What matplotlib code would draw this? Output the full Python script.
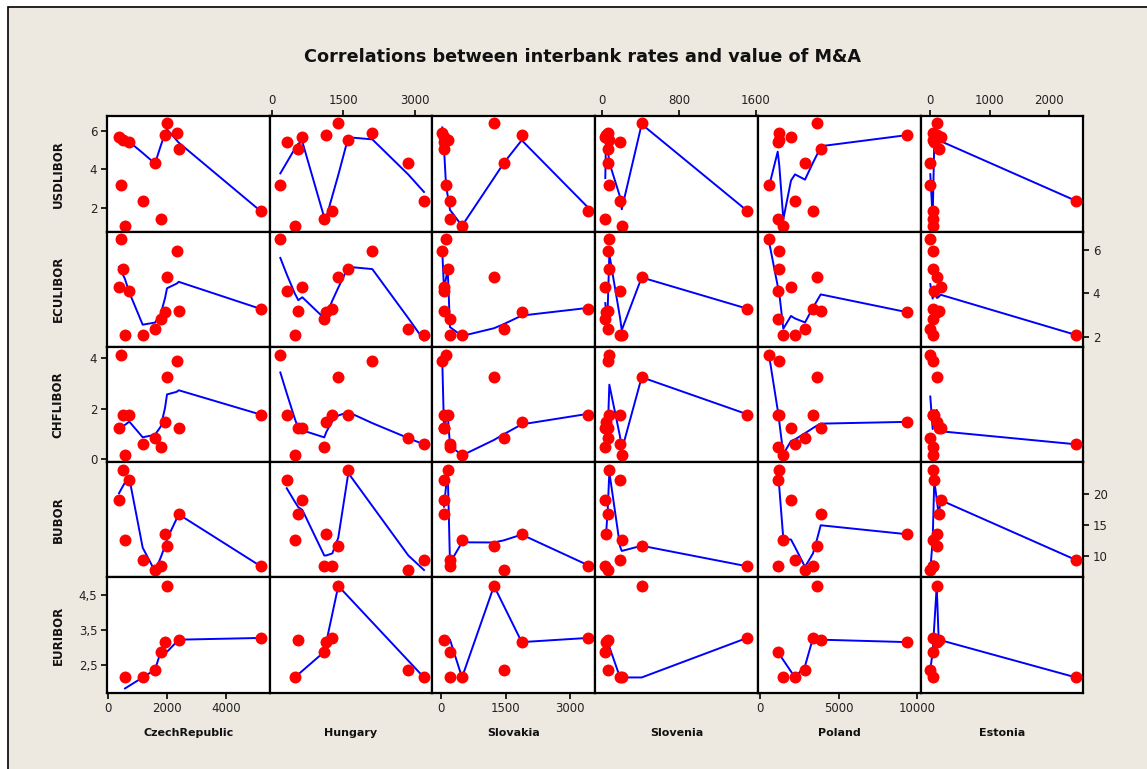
import matplotlib
matplotlib.use("Agg")
import matplotlib.pyplot as plt
import numpy as np
from matplotlib.patches import Rectangle

nan = np.nan

countries = ["CzechRepublic", "Hungary", "Slovakia", "Slovenia", "Poland", "Estonia"]
rates = ["USDLIBOR", "ECULIBOR", "CHFLIBOR", "BUBOR", "EURIBOR"]

# value of M&A per country, one entry per observation
czech = [364, 510, 714, 432, 568, 1170, 1588, 1782, 1929, 1997, 2327, 2395, 5184]
hungary = [640, 1603, 314, 180, 481, 3186, 2858, 1100, 1142, 1393, 2105, 556, 1268]
slovakia = [76, 162, 76, 123, 493, 215, 1464, 215, 1874, 1233, 37, 76, 3400]
slovenia = [34, 76, 187, 76, 205, 187, 59, 34, 42, 412, 59, 59, 1507]
poland = [1969, 1226, 1124, 572, 1480, 2223, 2858, 1124, 9316, 3620, 1226, 3855, 3366]
estonia = [180, 45, 72, 5, 45, 2453, 5, 45, 118, 113, 45, 146, 45]

# interbank rates for the same observations
usdlibor = [5.66, 5.52, 5.43, 3.19, 1.10, 2.38, 4.32, 1.45, 5.76, 6.38, 5.87, 5.04, 1.85]
eculibor = [4.30, 5.11, 4.10, 6.49, 2.09, 2.09, 2.37, 2.81, 3.14, 4.76, 5.94, 3.21, 3.29]
chflibor = [1.23, 1.77, 1.77, 4.14, 0.17, 0.59, 0.83, 0.50, 1.48, 3.27, 3.89, 1.23, 1.77]
bubor = [19.0, 23.8, 22.2, nan, 12.5, 9.35, 7.74, 8.39, 13.5, 11.6, nan, 16.7, 8.34]
euribor = [nan, nan, nan, nan, 2.13, 2.13, 2.35, 2.87, 3.15, 4.77, nan, 3.22, 3.27]

x_data = [czech, hungary, slovakia, slovenia, poland, estonia]
y_data = [usdlibor, eculibor, chflibor, bubor, euribor]

x_ticks = [[0, 2000, 4000], [0, 1500, 3000], [0, 1500, 3000],
           [0, 800, 1600], [0, 5000, 10000], [0, 1000, 2000]]
y_ticks = [[2, 4, 6], [2, 4, 6], [0, 2, 4], [10, 15, 20], [2.5, 3.5, 4.5]]
x_lims = [(-44, 5500), (-36, 3354), (-201, 3569), (-73, 1621), (-127, 10224), (-151, 2570)]
y_lims = [(0.79, 6.73), (1.55, 6.84), (-0.10, 4.46), (6.56, 25.2), (1.69, 5.02)]


def lowess(x, y, frac=0.5, steps=10):
    # locally weighted linear fit with bisquare robustness iterations
    order = np.argsort(x, kind="stable")
    x = np.asarray(x, float)[order]
    y = np.asarray(y, float)[order]
    n = len(x)
    r = max(int(frac * n), 2)
    fit = np.zeros(n)
    rob = np.ones(n)
    for _ in range(steps + 1):
        for i in range(n):
            d = np.abs(x - x[i])
            h = max(np.sort(d)[r - 1], 1e-9)
            w = np.clip(d / h, 0, 1)
            w = (1 - w ** 3) ** 3 * rob
            sw = w.sum()
            if sw <= 0:
                fit[i] = y[i]
                continue
            xm = (w * x).sum() / sw
            ym = (w * y).sum() / sw
            var = (w * (x - xm) ** 2).sum()
            if var > 1e-9:
                b = (w * (x - xm) * (y - ym)).sum() / var
                fit[i] = ym + b * (x[i] - xm)
            else:
                fit[i] = ym
        res = y - fit
        s = np.median(np.abs(res))
        if s <= 0:
            break
        u = np.clip(res / (6 * s), -1, 1)
        rob = (1 - u ** 2) ** 2
    return x, fit


W, H = 1147, 769
fig = plt.figure(figsize=(W / 100, H / 100), dpi=100)
fig.patch.set_facecolor("white")
fig.patches.append(Rectangle((8 / W, -0.1), 1.1, 1.1 - 7 / H, transform=fig.transFigure,
                             facecolor="#EDE9E0", edgecolor="black", linewidth=1.2,
                             zorder=-5))

col_edges = [107, 270, 432, 595, 758, 921, 1083]
row_edges = [116.5, 231.7, 346.7, 461.7, 577.3, 692.7]

fig.text(582 / W, 1 - 57 / H, "Correlations between interbank rates and value of M&A",
         ha="center", va="center", fontsize=12.7, fontweight="bold", color="#111111")

nrows, ncols = len(rates), len(countries)
for i in range(nrows):
    for j in range(ncols):
        x0, x1 = col_edges[j], col_edges[j + 1]
        y0, y1 = row_edges[i], row_edges[i + 1]
        ax = fig.add_axes([x0 / W, 1 - y1 / H, (x1 - x0) / W, (y1 - y0) / H])
        ax.set_facecolor("white")

        xs = np.array(x_data[j], float)
        ys = np.array(y_data[i], float)
        ok = ~np.isnan(xs) & ~np.isnan(ys)
        sx, sy = lowess(xs[ok], ys[ok])
        ax.plot(sx, sy, color="#0000FF", lw=1.4, zorder=2)
        ax.plot(xs[ok], ys[ok], "o", color="#FF0000", ms=8.6, mec="none", zorder=3)

        ax.set_xlim(*x_lims[j])
        ax.set_ylim(*y_lims[i])
        for sp in ax.spines.values():
            sp.set_linewidth(1.6)
            sp.set_color("black")
        ax.tick_params(length=4, width=1.2, labelsize=8.5, colors="black",
                       labelcolor="#222222", pad=3)
        ax.set_xticks([])
        ax.set_yticks([])

        # x ticks alternate between bottom and top
        if j % 2 == 0 and i == nrows - 1:
            ax.set_xticks(x_ticks[j])
        if j % 2 == 1 and i == 0:
            ax.xaxis.tick_top()
            ax.set_xticks(x_ticks[j])
        # y ticks alternate between left and right
        if i % 2 == 0 and j == 0:
            ax.set_yticks(y_ticks[i])
            if rates[i] == "EURIBOR":
                ax.set_yticklabels([f"{v:.1f}".replace(".", ",") for v in y_ticks[i]])
        if i % 2 == 1 and j == ncols - 1:
            ax.yaxis.tick_right()
            ax.set_yticks(y_ticks[i])

for i, name in enumerate(rates):
    yc = (row_edges[i] + row_edges[i + 1]) / 2
    fig.text(58 / W, 1 - yc / H, name, rotation=90, ha="center", va="center",
             fontsize=8.5, fontweight="bold", color="#111111")
for j, name in enumerate(countries):
    xc = (col_edges[j] + col_edges[j + 1]) / 2
    fig.text(xc / W, 1 - 733 / H, name, ha="center", va="center",
             fontsize=8, fontweight="bold", color="#111111")

fig.savefig("out.png", dpi=100)
